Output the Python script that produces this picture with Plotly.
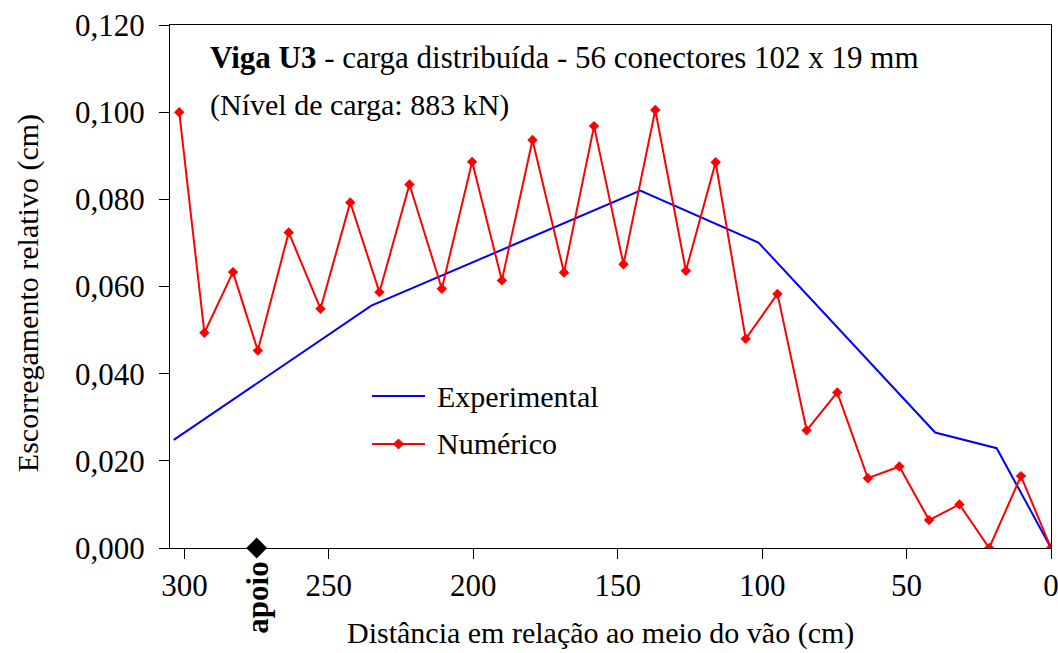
import plotly.graph_objects as go

# Experimental slip measurements
exp_x = [303.7, 235.3, 142.2, 101.3, 40.1, 18.8, 0.0]
exp_y = [0.0248, 0.0556, 0.0820, 0.0701, 0.0265, 0.0229, 0.0]

# Numerical model slip at each connector position
num_x = [301.8, 293.1, 283.2, 274.6, 263.9, 252.9, 242.6, 232.5, 222.1, 210.9,
         200.4, 190.1, 179.5, 168.6, 158.2, 148.0, 137.0, 126.4, 116.1, 105.7,
         94.7, 84.6, 74.0, 63.4, 52.5, 42.2, 31.7, 21.4, 10.4, 0.0]
num_y = [0.1000, 0.0494, 0.0633, 0.0453, 0.0724, 0.0549, 0.0793, 0.0587, 0.0834, 0.0595,
         0.0886, 0.0614, 0.0936, 0.0632, 0.0968, 0.0651, 0.1005, 0.0636, 0.0885, 0.0480,
         0.0583, 0.0270, 0.0357, 0.0160, 0.0187, 0.0064, 0.0100, 0.0000, 0.0165, 0.0000]

# Support location
apoio_x = [275]
apoio_y = [0.0]

x_ticks = [300, 250, 200, 150, 100, 50, 0]
y_ticks = [0.0, 0.02, 0.04, 0.06, 0.08, 0.10, 0.12]

FONT = "Liberation Serif, Times New Roman, serif"
BLUE = "#0000FF"
RED = "#FF0000"
TXT = 30
TICK = 31

fig = go.Figure()
fig.add_trace(go.Scatter(x=exp_x, y=exp_y, mode="lines", name="Experimental",
                         line=dict(color=BLUE, width=2), showlegend=False))
fig.add_trace(go.Scatter(x=num_x, y=num_y, mode="lines+markers", name="Numérico",
                         line=dict(color=RED, width=2),
                         marker=dict(symbol="diamond", size=8, color=RED),
                         showlegend=False))
fig.add_trace(go.Scatter(x=apoio_x, y=apoio_y, mode="markers", name="apoio",
                         marker=dict(symbol="diamond", size=16, color="black"),
                         cliponaxis=False, showlegend=False))

# Hand-drawn legend (longer line samples than the built-in legend)
leg_x0, leg_x1, leg_tx = 0.2293, 0.2894, 0.3008
legend_rows = [("Experimental", BLUE, 0.2906, False), ("Numérico", RED, 0.1989, True)]
for label, color, yy, with_marker in legend_rows:
    fig.add_shape(type="line", xref="paper", yref="paper",
                  x0=leg_x0, x1=leg_x1, y0=yy, y1=yy,
                  line=dict(color=color, width=2))
    if with_marker:
        fig.add_shape(type="path", xref="paper", yref="paper",
                      xsizemode="pixel", ysizemode="pixel",
                      xanchor=(leg_x0 + leg_x1) / 2, yanchor=yy,
                      path="M0,5 L5,0 L0,-5 L-5,0 Z",
                      fillcolor=color, line=dict(color=color, width=1))
    fig.add_annotation(text=label, xref="paper", yref="paper", x=leg_tx, y=yy,
                       xanchor="left", yanchor="middle", showarrow=False,
                       font=dict(family=FONT, size=TXT, color="black"))

fig.add_annotation(text="<b>Viga U3</b> - carga distribuída - 56 conectores 102 x 19 mm",
                   xref="paper", yref="paper", x=0.0431, y=0.937,
                   xanchor="left", yanchor="middle", showarrow=False,
                   font=dict(family=FONT, size=31, color="black"))
fig.add_annotation(text="(Nível de carga: 883 kN)",
                   xref="paper", yref="paper", x=0.0431, y=0.847,
                   xanchor="left", yanchor="middle", showarrow=False,
                   font=dict(family=FONT, size=TXT, color="black"))

# Label under the support marker
fig.add_annotation(text="<b>apoio</b>", x=apoio_x[0], y=0, xref="x", yref="paper",
                   yanchor="top", xanchor="center", yshift=-12, textangle=-90,
                   showarrow=False, font=dict(family=FONT, size=31, color="black"))

# Axis titles
fig.add_annotation(text="Distância em relação ao meio do vão (cm)",
                   xref="paper", yref="paper", x=0.489, y=-0.1625,
                   xanchor="center", yanchor="middle", showarrow=False,
                   font=dict(family=FONT, size=TXT, color="black"))
fig.add_annotation(text="Escorregamento relativo (cm)",
                   xref="paper", yref="paper", x=-0.161, y=0.4876, textangle=-90,
                   xanchor="center", yanchor="middle", showarrow=False,
                   font=dict(family=FONT, size=TXT, color="black"))

fig.update_layout(
    width=1058, height=653,
    margin=dict(l=170, r=7, t=25, b=105, autoexpand=False),
    paper_bgcolor="white", plot_bgcolor="white",
    separators=",.",
    font=dict(family=FONT, size=TXT, color="black"),
)
fig.update_xaxes(
    range=[305, 0], tickvals=x_ticks, ticks="outside", ticklen=10, tickwidth=1,
    tickcolor="black", showline=True, linecolor="black", linewidth=1, mirror=True,
    showgrid=False, zeroline=False, ticklabeloverflow="allow", automargin=False,
    tickfont=dict(family=FONT, size=TICK),
)
fig.update_yaxes(
    range=[0, 0.12], tickvals=y_ticks, tickformat=".3f", ticks="outside", ticklen=10,
    tickwidth=1, tickcolor="black", showline=True, linecolor="black", linewidth=1,
    mirror=True, showgrid=False, zeroline=False, ticklabelstandoff=8, automargin=False,
    tickfont=dict(family=FONT, size=TICK),
)

fig.write_html("out.html")
